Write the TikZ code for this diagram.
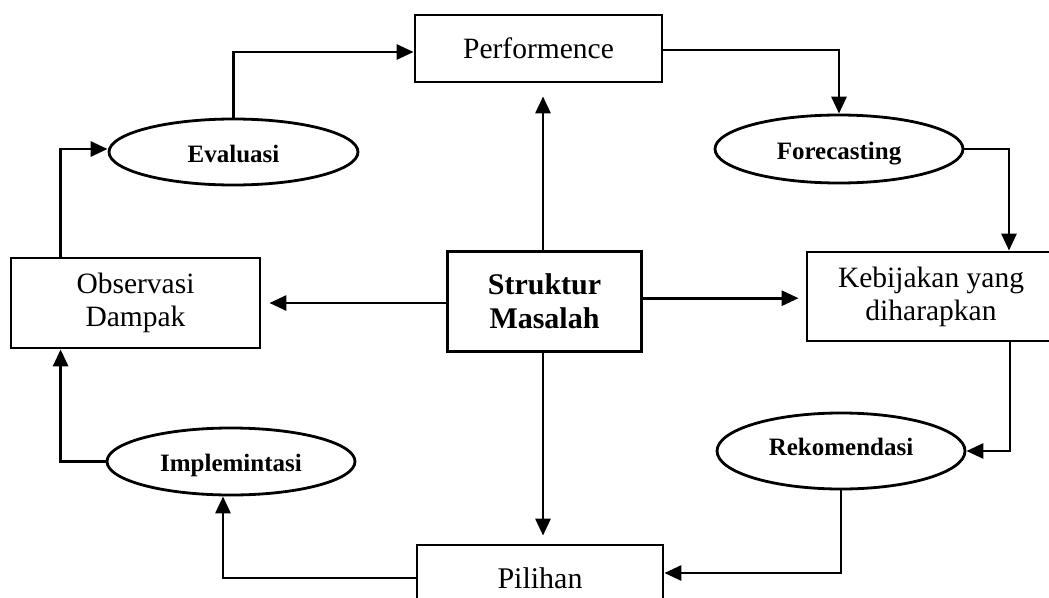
\documentclass[tikz,border=0pt]{standalone}
\usepackage{fontspec}
\setmainfont{Liberation Serif}
\usetikzlibrary{arrows.meta,shapes.geometric}
\tikzset{
  box/.style={draw, rectangle, line width=2.8pt, inner sep=0pt, align=center, font=\fontsize{29.5}{33}\selectfont},
  oval/.style={draw, ellipse, line width=2.8pt, inner sep=0pt, text height=22pt, text depth=2pt, font=\bfseries\fontsize{25}{28}\selectfont},
  arr/.style={line width=2.9pt, -{Triangle[length=17pt,width=15pt]}}
}
\begin{document}
\begin{tikzpicture}[x=1pt,y=-1pt]
\useasboundingbox (0,0) rectangle (1049,597);
\fill[white] (0,0) rectangle (1049,597);
% nodes
\node[box, minimum width=247pt, minimum height=67pt] (perf) at (538.5,48.5) {Performence};
\node[oval, minimum width=249pt, minimum height=66pt] (eval) at (233.5,152) {Evaluasi};
\node[box, minimum width=249pt, minimum height=90pt] (obs) at (135.5,303) {Observasi\\Dampak};
\node[box, minimum width=194pt, minimum height=100pt, font=\bfseries\fontsize{30}{34}\selectfont] (str) at (544.5,301.7) {Struktur\\Masalah};
\node[box, minimum width=248pt, minimum height=89pt] (keb) at (931,296.5) {Kebijakan yang\\diharapkan};
\node[oval, minimum width=248pt, minimum height=68pt] (fore) at (839,149) {Forecasting};
\node[oval, minimum width=248pt, minimum height=76pt, text height=19pt, text depth=11pt] (rek) at (841,451) {Rekomendasi};
\node[oval, minimum width=248pt, minimum height=67pt] (impl) at (231,461.5) {Implemintasi};
\node[box, minimum width=246pt, minimum height=66pt, font=\fontsize{30}{34}\selectfont] (pil) at (540,578) {Pilihan};
% connectors
\draw[arr] (eval.north) |- ([yshift=-3.5pt]perf.west);
\draw[arr] ([xshift=51pt]obs.north west) |- ([yshift=3pt]eval.west);
\draw[arr, shorten >=13pt] ([xshift=-1.5pt]str.north) -- ([xshift=-1.5pt]str.north |- perf.south);
\draw[arr] ([yshift=-1.5pt]perf.east) -| (fore.north);
\draw[arr] (fore.east) -| ([xshift=78pt]keb.north);
\draw[arr, shorten >=7pt] ([yshift=3.5pt]str.east) -- ([yshift=3.5pt]str.east -| keb.west);
\draw[arr, shorten >=8pt] ([yshift=-1.3pt]str.west) -- ([yshift=-1.3pt]str.west -| obs.east);
\draw[arr, shorten >=8pt] ([xshift=-1.5pt]str.south) -- ([xshift=-1.5pt]str.south |- pil.north);
\draw[arr] ([xshift=79pt]keb.south) |- (rek.east);
\draw[arr] (rek.south) |- ([yshift=5pt]pil.east);
\draw[arr] (pil.west) -| ([xshift=-8pt]impl.south);
\draw[arr] (impl.west) -| ([xshift=51pt]obs.south west);
\end{tikzpicture}
\end{document}
